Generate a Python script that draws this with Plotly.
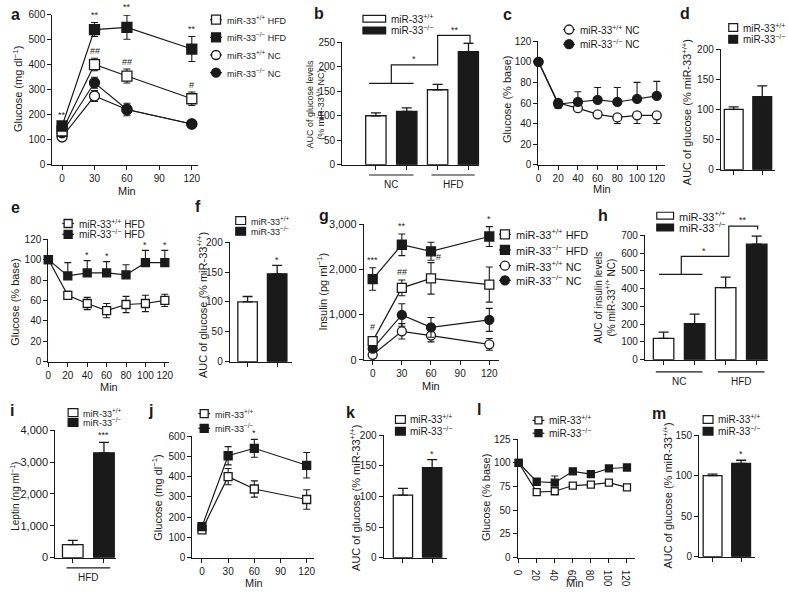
import plotly.graph_objects as go

W, H = 788, 594
K = '#1a1a1a'
FONT = 'Liberation Sans, Arial, sans-serif'
WT = 'miR-33<sup>+/+</sup>'
KO = 'miR-33<sup>\u2212/\u2212</sup>'

# ---------------- data ----------------
a_min = [0, 30, 60, 120]
a_wt_hfd = [135, 401, 355, 264]
a_wt_hfd_err = [10, 25, 28, 27]
a_ko_hfd = [155, 541, 550, 463]
a_ko_hfd_err = [12, 28, 48, 50]
a_wt_nc = [111, 275, 221, 163]
a_wt_nc_err = [6, 22, 18, 8]
a_ko_nc = [128, 328, 221, 163]
a_ko_nc_err = [8, 22, 25, 8]

b_groups = ['NC', 'HFD']
b_wt = [100, 153]
b_wt_err = [6, 11]
b_ko = [109, 231]
b_ko_err = [7, 17]

c_min = [0, 20, 40, 60, 80, 100, 120]
c_wt_nc = [100, 60, 55, 49, 46, 48, 48]
c_wt_nc_err = [0, 5, 3, 3, 6, 8, 8]
c_ko_nc = [100, 59, 61, 63, 61, 64, 67]
c_ko_nc_err = [0, 4, 10, 12, 14, 16, 14]

d_wt = [100]
d_wt_err = [4]
d_ko = [121]
d_ko_err = [18]

e_min = [0, 20, 40, 60, 80, 100, 120]
e_wt_hfd = [100, 65, 57, 50, 56, 57, 60]
e_wt_hfd_err = [0, 4, 6, 7, 8, 8, 6]
e_ko_hfd = [100, 84, 87, 87, 85, 97, 97]
e_ko_hfd_err = [0, 13, 12, 11, 10, 12, 12]

f_wt = [100]
f_wt_err = [9]
f_ko = [147]
f_ko_err = [14]

g_min = [0, 30, 60, 120]
g_wt_hfd = [413, 1594, 1804, 1667]
g_wt_hfd_err = [60, 175, 350, 390]
g_ko_hfd = [1790, 2550, 2405, 2733]
g_ko_hfd_err = [250, 240, 200, 220]
g_wt_nc = [109, 630, 536, 341]
g_wt_nc_err = [40, 170, 140, 130]
g_ko_nc = [246, 993, 717, 884]
g_ko_nc_err = [50, 250, 220, 255]

h_groups = ['NC', 'HFD']
h_wt = [120, 406]
h_wt_err = [35, 59]
h_ko = [203, 650]
h_ko_err = [53, 46]

i_group = ['HFD']
i_wt = [410]
i_wt_err = [130]
i_ko = [3290]
i_ko_err = [330]

j_min = [0, 30, 60, 120]
j_wt = [137, 400, 339, 287]
j_wt_err = [8, 40, 40, 48]
j_ko = [153, 503, 540, 456]
j_ko_err = [8, 45, 44, 63]

k_wt = [102]
k_wt_err = [11]
k_ko = [147]
k_ko_err = [13]

l_min = [0, 20, 40, 60, 80, 100, 120]
l_wt = [100, 69, 70, 76, 77, 79, 74]
l_wt_err = [0, 2, 2, 3, 2, 2, 2]
l_ko = [100, 80, 79, 91, 88, 94, 95]
l_ko_err = [0, 2, 7, 3, 2, 2, 2]

m_wt = [100]
m_wt_err = [2]
m_ko = [115]
m_ko_err = [4]

# ---------------- layout of panels (pixel boxes) ----------------
panels = {
    'a': dict(box=(47, 195, 9, 162), xr=(-9, 126), yr=(0, 600), xt=[0, 30, 60, 90, 120], yt=list(range(0, 601, 100)), xlab=True),
    'b': dict(box=(341, 480, 37, 162), xr=(-0.09, 4.35), yr=(0, 250), xt=[1, 2, 3, 4], yt=list(range(0, 251, 50)), xlab=False),
    'c': dict(box=(540, 668, 36, 162), xr=(0, 128), yr=(0, 120), xt=list(range(0, 121, 20)), yt=list(range(0, 121, 20)), xlab=True),
    'd': dict(box=(725, 780, 44, 167), xr=(0.55, 2.45), yr=(0, 200), xt=[1, 2], yt=[0, 50, 100, 150, 200], xlab=False),
    'e': dict(box=(43, 165, 238, 363), xr=(0, 124), yr=(0, 120), xt=list(range(0, 121, 20)), yt=list(range(0, 121, 20)), xlab=True),
    'f': dict(box=(227, 290, 241, 363), xr=(0.4, 2.5), yr=(0, 200), xt=[1, 2], yt=[0, 50, 100, 150, 200], xlab=False),
    'g': dict(box=(363, 500, 223, 361), xr=(-9, 130), yr=(0, 3000), xt=[0, 30, 60, 90, 120], yt=[0, 1000, 2000, 3000], xlab=True),
    'h': dict(box=(648, 773, 234, 361), xr=(0.4, 4.37), yr=(0, 700), xt=[1, 2, 3, 4], yt=list(range(0, 701, 100)), xlab=False),
    'i': dict(box=(50, 112, 433, 563), xr=(0.44, 2.4), yr=(0, 4000), xt=[1, 2], yt=[0, 1000, 2000, 3000, 4000], xlab=False),
    'j': dict(box=(189, 312, 439, 563), xr=(-11, 128), yr=(0, 600), xt=[0, 30, 60, 90, 120], yt=list(range(0, 601, 100)), xlab=True),
    'k': dict(box=(383, 447, 438, 563), xr=(0.34, 2.5), yr=(0, 200), xt=[1, 2], yt=[0, 50, 100, 150, 200], xlab=False),
    'l': dict(box=(519, 638, 442, 563), xr=(-1, 129), yr=(0, 125), xt=list(range(0, 121, 20)), yt=[0, 25, 50, 75, 100, 125], xlab=True),
    'm': dict(box=(703, 760, 438, 562), xr=(0.53, 2.5), yr=(0, 150), xt=[1, 2], yt=[0, 50, 100, 150], xlab=False),
}
ids = {p: n + 1 for n, p in enumerate('abcdefghijklm')}
OV = 14


def ref(p, letter):
    n = ids[p]
    return letter + ('' if n == 1 else str(n))


def to_px(p, x, y):
    x0, x1, yt, yb = panels[p]['box']
    xr, yr = panels[p]['xr'], panels[p]['yr']
    X = x0 + (x - xr[0]) / (xr[1] - xr[0]) * (x1 - x0)
    Y = yb - (y - yr[0]) / (yr[1] - yr[0]) * (yb - yt)
    return X, Y


fig = go.Figure()
anns = []
shapes = []


def text(x, y, s, size=10, xa='left', ya='middle', angle=0, bold=False):
    anns.append(dict(x=x, y=y, xref='x%d' % OV, yref='y%d' % OV, text=('<b>%s</b>' % s) if bold else s,
                     showarrow=False, xanchor=xa, yanchor=ya, textangle=angle,
                     font=dict(size=size, color=K, family=FONT)))


def line_series(p, x, y, err, symbol, fill, size, mode='both'):
    ed = dict(type='data', array=err, color=K, thickness=1.1, width=3.5)
    zeros = [0] * len(err)
    if mode == 'up':
        ed.update(symmetric=False, array=err, arrayminus=zeros)
    elif mode == 'down':
        ed.update(symmetric=False, array=zeros, arrayminus=err)
    fig.add_trace(go.Scatter(x=x, y=y, mode='lines+markers', line=dict(color=K, width=1.2),
                             marker=dict(symbol=symbol, size=size, color=fill, line=dict(color=K, width=1.3)),
                             error_y=ed, xaxis=ref(p, 'x'), yaxis=ref(p, 'y'), showlegend=False,
                             cliponaxis=False, hoverinfo='skip'))


def bar_series(p, x, y, err, fill, width=0.66):
    fig.add_trace(go.Bar(x=x, y=y, width=width, marker=dict(color=fill, line=dict(color=K, width=1.3)),
                         error_y=dict(type='data', symmetric=False, array=err, arrayminus=[0] * len(err),
                                      color=K, thickness=1.3, width=5),
                         xaxis=ref(p, 'x'), yaxis=ref(p, 'y'), showlegend=False, hoverinfo='skip'))


def star(p, x, ytop, s, gap=5, size=9):
    X, Y = to_px(p, x, ytop)
    yc = Y - gap - (3 if '*' in s else 2)
    text(X, yc, s, size=size, xa='center', ya='middle')


def leg_line(xc, ys, items, size, fsize, half=7):
    for yc, (sym, fill, label) in zip(ys, items):
        fig.add_trace(go.Scatter(x=[xc - half, xc + half], y=[yc, yc], mode='lines', line=dict(color=K, width=1.2),
                                 xaxis='x%d' % OV, yaxis='y%d' % OV, showlegend=False, hoverinfo='skip'))
        fig.add_trace(go.Scatter(x=[xc], y=[yc], mode='markers',
                                 marker=dict(symbol=sym, size=size, color=fill, line=dict(color=K, width=1.3)),
                                 xaxis='x%d' % OV, yaxis='y%d' % OV, showlegend=False, hoverinfo='skip'))
        text(xc + half + 3, yc, label, size=fsize)


def leg_box(x0, x1, ys, h, fsize, labels=(WT, KO)):
    for yc, fill, label in zip(ys, ['white', K], labels):
        shapes.append(dict(type='rect', xref='x%d' % OV, yref='y%d' % OV, x0=x0, x1=x1, y0=yc - h / 2, y1=yc + h / 2,
                           fillcolor=fill, line=dict(color=K, width=1.2)))
        text(x1 + 3, yc, label, size=fsize)


def path(pts, p):
    px = [to_px(p, x, y) for x, y in pts]
    d = 'M ' + ' L '.join('%.2f %.2f' % q for q in px)
    shapes.append(dict(type='path', xref='x%d' % OV, yref='y%d' % OV, path=d, line=dict(color=K, width=1.2)))


def group_line(p, xa, xb, ypx, label, fsize=10):
    X0, _ = to_px(p, xa, 0)
    X1, _ = to_px(p, xb, 0)
    shapes.append(dict(type='line', xref='x%d' % OV, yref='y%d' % OV, x0=X0, x1=X1, y0=ypx, y1=ypx,
                       line=dict(color=K, width=1.2)))
    text((X0 + X1) / 2, ypx + 10, label, size=fsize, xa='center')


SQ, CI = 'square', 'circle'

# ---------- a ----------
line_series('a', a_min, a_wt_nc, a_wt_nc_err, CI, 'white', 10)
line_series('a', a_min, a_ko_nc, a_ko_nc_err, CI, K, 10)
line_series('a', a_min, a_wt_hfd, a_wt_hfd_err, SQ, 'white', 10)
line_series('a', a_min, a_ko_hfd, a_ko_hfd_err, SQ, K, 10)
for n, s in enumerate(['**', '**', '**', '**']):
    star('a', a_min[n], a_ko_hfd[n] + a_ko_hfd_err[n], s)
for n, s in [(1, '##'), (2, '##'), (3, '#')]:
    star('a', a_min[n], a_wt_hfd[n] + a_wt_hfd_err[n], s)
leg_line(213, [14, 32, 50, 68], [(SQ, 'white', WT + ' HFD'), (SQ, K, KO + ' HFD'),
                                 (CI, 'white', WT + ' NC'), (CI, K, KO + ' NC')], 9, 9, half=6)

# ---------- b ----------
bar_series('b', [1, 3], b_wt, b_wt_err, 'white')
bar_series('b', [2, 4], b_ko, b_ko_err, K)
path([(0.78, 166), (2.22, 166)], 'b')
path([(1.5, 166), (1.5, 204), (3.0, 204), (3.0, 264), (4.05, 264), (4.05, 248)], 'b')
X, Y = to_px('b', 2.25, 204)
text(X, Y - 6, '*', size=9, xa='center')
X, Y = to_px('b', 3.55, 264)
text(X, Y - 6, '**', size=9, xa='center')
group_line('b', 0.78, 2.22, 172.5, b_groups[0])
group_line('b', 2.8, 4.2, 172.5, b_groups[1])
leg_box(362, 385, [13, 25], 7, 10)

# ---------- c ----------
line_series('c', c_min, c_wt_nc, c_wt_nc_err, CI, 'white', 9, mode='down')
line_series('c', c_min, c_ko_nc, c_ko_nc_err, CI, K, 9, mode='up')
leg_line(571, [24, 39], [(CI, 'white', WT + ' NC'), (CI, K, KO + ' NC')], 9, 10, half=6)

# ---------- d ----------
bar_series('d', [1], d_wt, d_wt_err, 'white')
bar_series('d', [2], d_ko, d_ko_err, K)
leg_box(733, 742, [22, 34], 8, 10)

# ---------- e ----------
line_series('e', e_min, e_wt_hfd, e_wt_hfd_err, SQ, 'white', 8)
line_series('e', e_min, e_ko_hfd, e_ko_hfd_err, SQ, K, 8, mode='up')
for n in [2, 3, 5, 6]:
    star('e', e_min[n], e_ko_hfd[n] + e_ko_hfd_err[n], '*', gap=3)
leg_line(63, [222, 233], [(SQ, 'white', WT + ' HFD'), (SQ, K, KO + ' HFD')], 8, 10, half=6)

# ---------- f ----------
bar_series('f', [1], f_wt, f_wt_err, 'white')
bar_series('f', [2], f_ko, f_ko_err, K)
star('f', 2, f_ko[0] + f_ko_err[0], '*', gap=3)
leg_box(233, 243, [219, 230], 8, 9)

# ---------- g ----------
line_series('g', g_min, g_wt_nc, g_wt_nc_err, CI, 'white', 9)
line_series('g', g_min, g_ko_nc, g_ko_nc_err, CI, K, 9)
line_series('g', g_min, g_wt_hfd, g_wt_hfd_err, SQ, 'white', 9)
line_series('g', g_min, g_ko_hfd, g_ko_hfd_err, SQ, K, 9)
for n, s in [(0, '***'), (1, '**'), (3, '*')]:
    star('g', g_min[n], g_ko_hfd[n] + g_ko_hfd_err[n], s)
for n, s, gp in [(0, '#', 12), (1, '##', 8), (2, '#', 6)]:
    X, Y = to_px('g', g_min[n], g_wt_hfd[n] + g_wt_hfd_err[n])
    text(X + (8 if n == 2 else 0), Y - gp, s, size=9, xa='center')
leg_line(506, [233, 249, 265, 280], [(SQ, 'white', WT + ' HFD'), (SQ, K, KO + ' HFD'),
                                     (CI, 'white', WT + ' NC'), (CI, K, KO + ' NC')], 9, 11, half=6)

# ---------- h ----------
bar_series('h', [1, 3], h_wt, h_wt_err, 'white')
bar_series('h', [2, 4], h_ko, h_ko_err, K)
path([(0.85, 480), (2.25, 480)], 'h')
path([(1.57, 480), (1.57, 581), (3.1, 581), (3.1, 751), (4.03, 751), (4.03, 732)], 'h')
X, Y = to_px('h', 2.3, 581)
text(X, Y - 6, '*', size=9, xa='center')
X, Y = to_px('h', 3.57, 751)
text(X, Y - 6, '**', size=9, xa='center')
group_line('h', 0.75, 2.25, 373.5, h_groups[0])
group_line('h', 2.75, 4.25, 373.5, h_groups[1])
leg_box(660, 677, [214, 226], 7, 11)

# ---------- i ----------
bar_series('i', [1], i_wt, i_wt_err, 'white')
bar_series('i', [2], i_ko, i_ko_err, K)
star('i', 2, i_ko[0] + i_ko_err[0], '***', gap=4)
group_line('i', 0.8, 2.2, 573.5, i_group[0])
leg_box(63, 73, [415, 425], 8, 9)

# ---------- j ----------
line_series('j', j_min, j_wt, j_wt_err, SQ, 'white', 8)
line_series('j', j_min, j_ko, j_ko_err, SQ, K, 8)
star('j', j_min[2], j_ko[2] + j_ko_err[2], '*', gap=3)
leg_line(201, [416, 431], [(SQ, 'white', WT), (SQ, K, KO)], 8, 9, half=6)

# ---------- k ----------
bar_series('k', [1], k_wt, k_wt_err, 'white')
bar_series('k', [2], k_ko, k_ko_err, K)
star('k', 2, k_ko[0] + k_ko_err[0], '*', gap=3)
leg_box(395, 405, [422, 434], 8, 10)

# ---------- l ----------
line_series('l', l_min, l_wt, l_wt_err, SQ, 'white', 7, mode='down')
line_series('l', l_min, l_ko, l_ko_err, SQ, K, 7, mode='up')
leg_line(540, [423, 436], [(SQ, 'white', WT), (SQ, K, KO)], 7, 10, half=6)

# ---------- m ----------
bar_series('m', [1], m_wt, m_wt_err, 'white')
bar_series('m', [2], m_ko, m_ko_err, K)
star('m', 2, m_ko[0] + m_ko_err[0], '*', gap=3)
leg_box(707, 717, [422, 434], 8, 10)

# ---------- axis titles ----------
TS = 11
text(12, 85, 'Glucose (mg dl<sup>\u22121</sup>)', size=TS, xa='center', angle=-90)
text(123, 189, 'Min', size=TS, xa='center')
text(314, 100, 'AUC of glucose levels<br>(% ' + WT + ' NC)', size=9, xa='center', angle=-90)
text(508, 95, 'Glucose (% base)', size=TS, xa='center', angle=-90)
text(604, 187, 'Min', size=TS, xa='center')
text(690, 108, 'AUC of glucose (% ' + WT + ')', size=TS, xa='center', angle=-90)
text(9, 302, 'Glucose (% base)', size=TS, xa='center', angle=-90)
text(104, 389, 'Min', size=TS, xa='center')
text(199, 305, 'AUC of glucose (% ' + WT + ')', size=TS, xa='center', angle=-90)
text(321, 292, 'Insulin (pg ml<sup>\u22121</sup>)', size=TS, xa='center', angle=-90)
text(431, 388, 'Min', size=TS, xa='center')
text(607, 298, 'AUC of insulin levels<br>(% ' + WT + ' NC)', size=10, xa='center', angle=-90)
text(9, 500, 'Leptin (ng ml<sup>\u22121</sup>)', size=10, xa='center', angle=-90)
text(153, 502, 'Glucose (mg dl<sup>\u22121</sup>)', size=TS, xa='center', angle=-90)
text(252, 589, 'Min', size=TS, xa='center')
text(354, 502, 'AUC of glucose (% ' + WT + ')', size=TS, xa='center', angle=-90)
text(487, 502, 'Glucose (% base)', size=TS, xa='center', angle=-90)
text(577, 589, 'Min', size=TS, xa='center')
text(671, 500, 'AUC of glucose (% ' + WT + ')', size=TS, xa='center', angle=-90)

# ---------- panel letters ----------
for s, x, y in [('a', 3, 9), ('b', 310, 8), ('c', 502, 9), ('d', 682, 8), ('e', 3, 206), ('f', 190, 205),
                ('g', 315, 214), ('h', 598, 214), ('i', 2, 413), ('j', 142, 413), ('k', 343, 415),
                ('l', 476, 412), ('m', 653, 416)]:
    text(x, y, s, size=16, bold=True)

# ---------- axes ----------
common = dict(showline=True, linecolor=K, linewidth=1.2, ticks='outside', ticklen=4, tickwidth=1.2,
              tickcolor=K, showgrid=False, zeroline=False, fixedrange=True)
layout_axes = {}
for p, spec in panels.items():
    n = ids[p]
    sx = '' if n == 1 else str(n)
    x0, x1, yt, yb = spec['box']
    big = max(spec['yt']) >= 1000
    tf = dict(size=11 if big else 10, color=K, family=FONT)
    yax = dict(domain=[1 - yb / H, 1 - yt / H], range=list(spec['yr']), anchor='x' + sx,
               tickmode='array', tickvals=spec['yt'], ticktext=[format(v, ',') for v in spec['yt']],
               showticklabels=True, tickfont=tf, **common)
    xax = dict(domain=[x0 / W, x1 / W], range=list(spec['xr']), anchor='y' + sx,
               tickmode='array', tickvals=spec['xt'], tickfont=dict(size=10, color=K, family=FONT), **common)
    if spec['xlab']:
        xax['ticktext'] = [str(v) for v in spec['xt']]
    else:
        xax['showticklabels'] = False
    layout_axes['xaxis' + sx] = xax
    layout_axes['yaxis' + sx] = yax
layout_axes['xaxis%d' % OV] = dict(domain=[0, 1], range=[0, W], visible=False, fixedrange=True, anchor='y%d' % OV)
layout_axes['yaxis%d' % OV] = dict(domain=[0, 1], range=[H, 0], visible=False, fixedrange=True, anchor='x%d' % OV)

fig.update_layout(width=W, height=H, margin=dict(l=0, r=0, t=0, b=0), paper_bgcolor='white',
                  plot_bgcolor='rgba(0,0,0,0)', barmode='overlay', showlegend=False,
                  font=dict(family=FONT, color=K), annotations=anns, shapes=shapes, **layout_axes)
fig.write_html('out.html', config={'displayModeBar': False},
               post_script="document.body.style.margin='0px';")
